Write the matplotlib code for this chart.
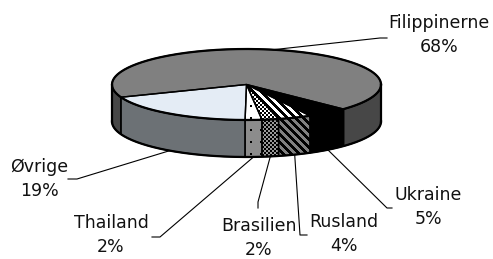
import numpy as np
import matplotlib
matplotlib.use("Agg")
import matplotlib.pyplot as plt
from matplotlib.patches import Polygon

# data (share in %), drawn counter-clockwise starting at the Øvrige slice
names = ["Øvrige", "Thailand", "Brasilien", "Rusland", "Ukraine", "Filippinerne"]
shares = [19, 2, 2, 4, 5, 68]

W, H = 493, 259
cx, cy = 246.5, 84.5      # centre of top ellipse (pixels)
a, b = 134.5, 35.5        # semi-axes
depth = 37                # wall height
start = 201               # degrees where first slice starts

# (top face, wall face) styles: ("solid", colour) or (texture, bg, fg)
styles = {
    "Øvrige": (("solid", "#e4ecf5"), ("solid", "#6c7175")),
    "Thailand": (("dots", "white", "black"), ("dots", "#8c8c8c", "black")),
    "Brasilien": (("checker", "white", "black"), ("checker", "#999999", "black")),
    "Rusland": (("stripes", "white", "black"), ("stripes", "#808080", "black")),
    "Ukraine": (("solid", "black"), ("solid", "black")),
    "Filippinerne": (("solid", "#808080"), ("solid", "#474747")),
}

# label text positions and leader line bends (layout)
label_pos = {
    "Filippinerne": (439, 35), "Ukraine": (428, 207), "Rusland": (344, 234),
    "Brasilien": (259, 238), "Thailand": (111, 235), "Øvrige": (39, 179),
}
leader_bend = {
    "Filippinerne": [(380, 38), (387, 38)], "Ukraine": [(387, 208), (392, 208)],
    "Rusland": [(300, 235), (307, 235)], "Brasilien": [(258, 202), (258, 208)],
    "Thailand": [(160, 237), (152, 237)], "Øvrige": [(77, 179), (68, 179)],
}

yy, xx = np.mgrid[0:H, 0:W]


def texture(kind, bg, fg):
    if kind == "dots":
        mask = (xx % 10 < 2) & ((yy + 3) % 12 < 2)
    elif kind == "checker":
        mask = ((xx // 2 + yy // 2) % 2) == 0
    else:
        mask = ((xx - yy) // 4 % 2) == 0
    bgc = np.array(matplotlib.colors.to_rgb(bg))
    fgc = np.array(matplotlib.colors.to_rgb(fg))
    img = np.where(mask[..., None], fgc, bgc)
    return img


def ell(t, dy=0):
    t = np.radians(t)
    return cx + a * np.cos(t), cy - b * np.sin(t) + dy


def fill_face(ax, pts, style, z):
    if style[0] == "solid":
        p = Polygon(pts, closed=True, facecolor=style[1], edgecolor="none", zorder=z)
        ax.add_patch(p)
    else:
        p = Polygon(pts, closed=True, facecolor="none", edgecolor="none", zorder=z)
        ax.add_patch(p)
        im = ax.imshow(texture(*style), extent=(0, W, H, 0), interpolation="nearest",
                       zorder=z, aspect="auto")
        im.set_clip_path(p)
    ax.add_patch(Polygon(pts, closed=True, facecolor="none", edgecolor="black",
                         lw=1.0, zorder=z + 0.5))


fig = plt.figure(figsize=(W / 100, H / 100), dpi=100)
ax = fig.add_axes([0, 0, 1, 1])
ax.set_xlim(0, W)
ax.set_ylim(H, 0)
ax.axis("off")

angles = np.cumsum([0] + [s * 3.6 for s in shares]) + start
for i, name in enumerate(names):
    t1, t2 = angles[i], angles[i + 1]
    top_style, wall_style = styles[name]
    # wall: only the front half (180..360 deg, modulo 360) is visible
    for lo, hi in [(180, 360), (540, 720)]:
        w1, w2 = max(t1, lo), min(t2, hi)
        if w2 > w1:
            ts = np.linspace(w1, w2, 80)
            x, y = ell(ts)
            xb, yb = ell(ts[::-1], depth)
            pts = np.column_stack([np.r_[x, xb], np.r_[y, yb]])
            fill_face(ax, pts, wall_style, 2)
    ts = np.linspace(t1, t2, 200)
    x, y = ell(ts)
    pts = np.column_stack([np.r_[cx, x], np.r_[cy, y]])
    fill_face(ax, pts, top_style, 4)

# bold outline of the whole disc
ts = np.linspace(0, 360, 400)
x, y = ell(ts)
ax.plot(x, y, color="black", lw=1.6, zorder=6)
ts = np.linspace(180, 360, 200)
x, y = ell(ts, depth)
ax.plot(x, y, color="black", lw=1.6, zorder=6)
for t in (180, 360):
    x0, y0 = ell(t)
    ax.plot([x0, x0], [y0, y0 + depth], color="black", lw=1.6, zorder=6)

# labels with leader lines
for i, name in enumerate(names):
    mid = (angles[i] + angles[i + 1]) / 2
    if np.sin(np.radians(mid)) > 0:
        sx, sy = ell(mid)
    else:
        sx, sy = ell(mid, depth)
    path = [(sx, sy)] + leader_bend[name]
    ax.plot([p[0] for p in path], [p[1] for p in path], color="black", lw=0.8, zorder=7)
    lx, ly = label_pos[name]
    ax.text(lx, ly, f"{name}\n{shares[i]}%", ha="center", va="center",
            fontsize=12.5, linespacing=1.4, color="#111111", zorder=8)

ax.set_xlim(0, W)
ax.set_ylim(H, 0)
fig.savefig("out.png", dpi=100)
